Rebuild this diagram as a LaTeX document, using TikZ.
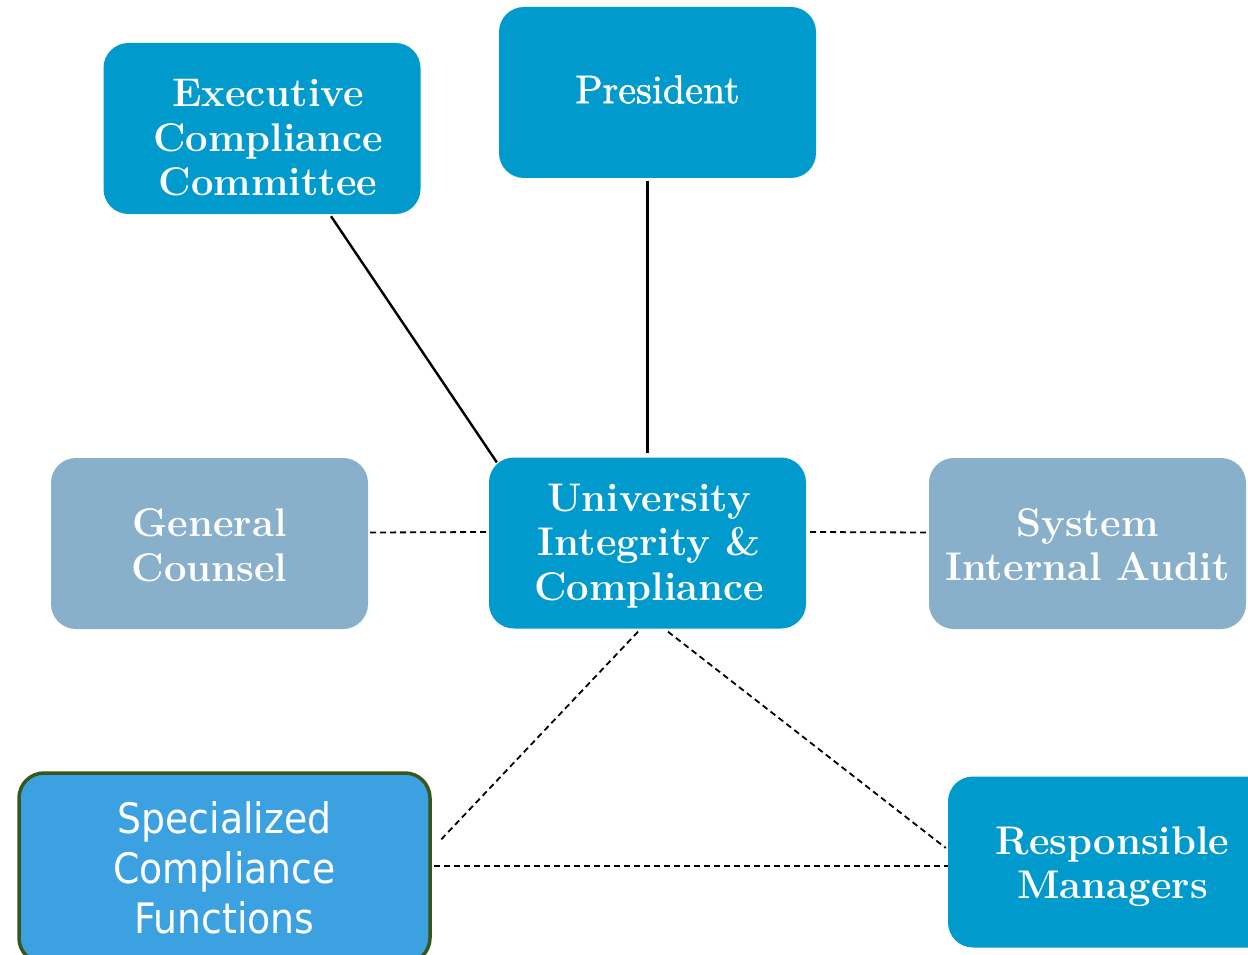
\documentclass[tikz,border=0pt]{standalone}
\usepackage{fontspec}
\newfontfamily\sanscf{DejaVu Sans Condensed}
\newfontfamily\presfont[FakeBold=1.5]{lmroman10-regular.otf}
\definecolor{mainblue}{RGB}{0,154,204}
\definecolor{greyblue}{RGB}{137,176,202}
\definecolor{scfblue}{RGB}{59,161,224}
\definecolor{scfborder}{RGB}{56,87,30}
\begin{document}
\begin{tikzpicture}[x=1pt,y=-1pt,
  box/.style={rectangle, rounded corners=25pt, inner sep=0pt,
    minimum width=317pt, minimum height=171pt},
  mainbox/.style={box, fill=mainblue},
  greybox/.style={box, fill=greyblue},
  boxtext/.style={align=center, text=white, inner sep=0pt, font=\fontsize{40}{44.5}\selectfont\bfseries},
  solidline/.style={line width=2.4pt, black},
  dashline/.style={line width=1.8pt, black, dash pattern=on 6pt off 4pt}]
\useasboundingbox (0,0) rectangle (1248,955);
\fill[white] (0,0) rectangle (1248,955);
% boxes
\node[mainbox] (ecc) at (262,128.5) {};
\node[mainbox] (pres) at (657.5,92.5) {};
\node[mainbox] (uic) at (647.5,543) {};
\node[greybox] (gc) at (209.5,543.5) {};
\node[greybox] (sia) at (1087.5,543.5) {};
\node[box, fill=scfblue, draw=scfborder, line width=3.5pt, minimum width=411pt, minimum height=190pt] (scf) at (224.5,868) {};
\node[mainbox, minimum width=328pt] (rm) at (1112,862) {};
% texts
\node[boxtext] (ecctext) at (268,138) {Executive\\Compliance\\Committee};
\node[boxtext, font=\fontsize{40}{44.5}\presfont] (prestext) at (657.5,89.5) {President};
\node[boxtext] (uictext) at (649,546) {University\\Integrity \&\\Compliance};
\node[boxtext] (gctext) at (209.5,545.5) {General\\Counsel};
\node[boxtext] (siatext) at (1087.5,544.5) {System\\Internal Audit};
\node[boxtext, font=\fontsize{42}{50}\sanscf] (scftext) at (224.5,868) {Specialized\\Compliance\\Functions};
\node[boxtext] (rmtext) at (1112.5,866.5) {Responsible\\Managers};
% connectors
\draw[solidline] ([xshift=69pt,yshift=-2pt]ecc.south) -- ([xshift=8pt,yshift=-5pt]uic.north west);
\draw[solidline] ([yshift=4pt]uic.north) -- ([yshift=-3pt]uic.north |- pres.south);
\draw[dashline] ([xshift=2pt,yshift=11pt]gc.east) -- ([xshift=-2pt,yshift=11pt]uic.west);
\draw[dashline] ([xshift=4pt,yshift=11pt]uic.east) -- ([xshift=-2pt,yshift=11pt]sia.west);
\draw[dashline] ([xshift=-9.5pt,yshift=-3pt]uic.south) -- ([xshift=7pt,yshift=26pt]scf.east);
\draw[dashline] ([xshift=20.5pt,yshift=-3pt]uic.south) -- ([xshift=-2pt,yshift=14pt]rm.west);
\draw[dashline] ([xshift=2pt,yshift=2pt]scf.east) -- ([yshift=2pt]scf.east -| rm.west);
\end{tikzpicture}
\end{document}
